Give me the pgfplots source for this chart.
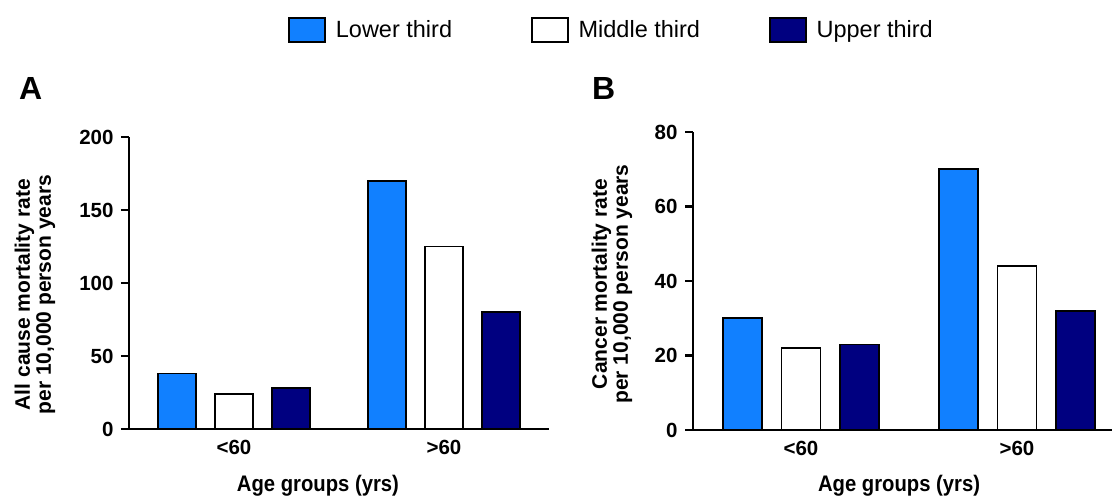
\documentclass[border=0pt]{standalone}
\usepackage{fontspec}
\setmainfont{Liberation Sans}
\newfontfamily\cond{Liberation Sans}[FakeStretch=0.9]
\usepackage{pgfplots}
\pgfplotsset{compat=1.18}
\definecolor{lowblue}{HTML}{1180FF}
\definecolor{navyb}{HTML}{000080}
\pgfplotsset{
  panel/.style={
    scale only axis,
    axis lines*=left,
    axis on top,
    axis line style={line width=2.5pt},
    ybar,
    xmin=-0.5, ymin=0,
    xtick={0,1}, xticklabels={{<60},{>60}},
    xtick style={draw=none},
    ytick style={line width=2.5pt, black},
    tick align=outside, major tick length=8pt,
    ticklabel style={font=\bfseries\fontsize{20.5}{24}\selectfont},
    yticklabel style={xshift=-4pt},
    /pgf/number format/assume math mode=true,
    xlabel={Age groups (yrs)},
    xlabel style={font=\cond\bfseries\fontsize{22.5}{26}\selectfont, anchor=base},
    ylabel style={font=\bfseries\fontsize{21}{21}\selectfont, align=center, anchor=center},
    clip=false,
  },
  lowbar/.style={fill=lowblue, draw=black, line width=1.5pt},
  midbar/.style={fill=white, draw=black, line width=1.5pt},
  upbar/.style={fill=navyb, draw=black, line width=1.5pt},
}
\begin{document}
\begin{tikzpicture}
\useasboundingbox (0,0) rectangle (1112pt,498pt);
\begin{axis}[panel,
  at={(129pt,69pt)}, anchor=south west,
  width=420pt, height=292pt,
  xmax=1.5, ymax=200,
  ytick={0,50,100,150,200},
  bar width=38pt, ybar=19pt,
  xlabel style={at={(axis description cs:0.45,0)}, yshift=-63pt},
  ylabel={All cause mortality rate\\per 10,000 person years},
  ylabel style={at={(axis description cs:-0.224,0.46)}},
  legend columns=3,
  legend image code/.code={\draw[#1, line width=1.5pt] (0pt,-12pt) rectangle (36pt,12pt); \path (44pt,0pt);},
  legend style={draw=none, fill=none, inner sep=0pt,
    at={(axis description cs:0.379,1.366)}, anchor=west,
    font=\fontsize{23.5}{28}\selectfont,
    /tikz/column 2/.style={column sep=77pt},
    /tikz/column 4/.style={column sep=67pt}},
]
\addplot[lowbar] coordinates {(0,38) (1,170)};
\addplot[midbar] coordinates {(0,24) (1,125)};
\addplot[upbar] coordinates {(0,28) (1,80)};
\legend{Lower third, Middle third, Upper third}
\end{axis}
\begin{axis}[panel,
  at={(693pt,68pt)}, anchor=south west,
  width=432pt, height=298pt,
  xmax=1.5, ymax=80,
  ytick={0,20,40,60,80},
  bar width=39pt, ybar=19.5pt,
  xlabel style={at={(axis description cs:0.477,0)}, yshift=-62pt},
  ylabel={Cancer mortality rate\\per 10,000 person years},
  ylabel style={at={(axis description cs:-0.1875,0.49)}},
]
\addplot[lowbar] coordinates {(0,30) (1,70)};
\addplot[midbar] coordinates {(0,22) (1,44)};
\addplot[upbar] coordinates {(0,23) (1,32)};
\end{axis}
\node[anchor=base west, inner sep=0pt, font=\bfseries\fontsize{32}{36}\selectfont] at (19pt,398pt) {A};
\node[anchor=base west, inner sep=0pt, font=\bfseries\fontsize{32}{36}\selectfont] at (592pt,398pt) {B};
\end{tikzpicture}
\end{document}
